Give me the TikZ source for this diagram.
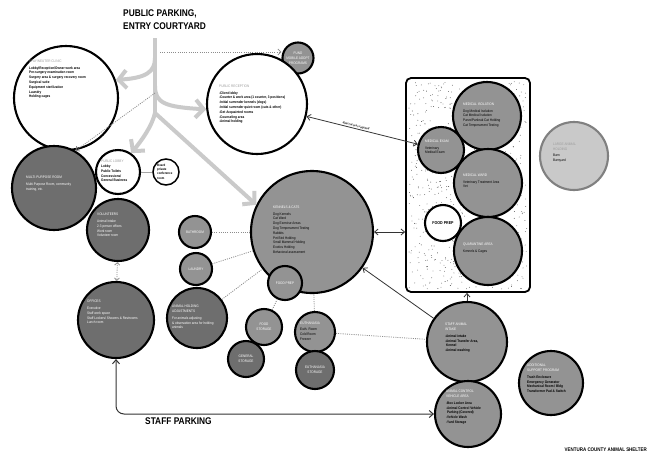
\documentclass[tikz,border=0pt]{standalone}
\usepackage{fontspec}
\setmainfont{Liberation Sans}
\newfontfamily\cf[FakeStretch=0.86]{Liberation Sans}
\usetikzlibrary{arrows.meta}
\definecolor{cdark}{HTML}{6E6E6E}
\definecolor{cmid}{HTML}{939393}
\definecolor{clight}{HTML}{C9C9C9}
\definecolor{cspine}{HTML}{CACACA}
\definecolor{chead}{HTML}{9C9C9C}
\newcommand{\hdw}[1]{\textcolor{white}{#1}}
\newcommand{\hdg}[1]{\textcolor{chead}{#1}}
\begin{document}
\begin{tikzpicture}[x=1pt,y=-1pt,
  circ/.style={circle, draw=black, line width=2.1pt, inner sep=0pt, minimum size=#1},
  wc/.style={circ=#1, fill=white},
  mc/.style={circ=#1, fill=cmid},
  dc/.style={circ=#1, fill=cdark},
  lc/.style={circ=#1, fill=clight, draw=gray},
  txt/.style={font=\cf\fontsize{3.6}{4.8}\selectfont, align=left, inner sep=0pt, anchor=north west},
  ctxt/.style={font=\cf\fontsize{3.6}{4.8}\selectfont, align=center, inner sep=0pt, text=white},
  big/.style={font=\cf\bfseries\fontsize{9.7}{13}\selectfont, align=left, inner sep=0pt},
  spine/.style={draw=cspine, line width=4pt},
  spinearrow/.style={spine, -{Straight Barb[length=8pt,width=18pt]}},
  thinarrow/.style={draw=black!80, line width=0.8pt},
  dotline/.style={draw=black!45, line width=0.8pt, dash pattern=on 1pt off 1.2pt},
  dotarrow/.style={dotline, -{Straight Barb[length=3pt,width=6pt]}}
]
\useasboundingbox[fill=white] (0,0) rectangle (651,456);

% titles
\node[big, anchor=north west] (title) at (123,10) {PUBLIC PARKING,\\ENTRY COURTYARD};
\node[big, anchor=north west] (staff) at (145,418) {STAFF PARKING};
\node[font=\cf\bfseries\fontsize{5.2}{6}\selectfont, anchor=east, inner sep=0pt] (vc) at (647,450) {VENTURA COUNTY ANIMAL SHELTER};

% medical rectangle with stipple
\node[draw=black, line width=1.8pt, rounded corners=5pt, fill=white, minimum width=124pt, minimum height=214pt, inner sep=0pt] (medrect) at (468,185) {};
\pgfmathsetseed{7}
\foreach \i in {1,...,750}{\fill[black!70] ({409+118*rnd},{81+208*rnd}) circle (0.42pt);}

% circles
\node[wc=104pt] (spay) at (66,98) {};
\node[mc=31pt] (fund) at (298,58) {};
\node[wc=100pt] (recep) at (257,104) {};
\node[dc=84pt] (multi) at (54,188) {};
\node[wc=44pt] (lobby) at (118,172) {};
\node[wc=26pt, line width=1.5pt] (board) at (166,172) {};
\node[dc=62pt] (volun) at (118,230) {};
\node[dc=76pt] (offices) at (116,320) {};
\node[mc=122pt] (kennels) at (312,232) {};
\node[mc=34pt] (foodprep) at (285,283) {};
\node[mc=32pt] (bath) at (195,232) {};
\node[mc=32pt] (laundry) at (196,269) {};
\node[dc=60pt] (adjust) at (197,318) {};
\node[mc=36pt] (foodstor) at (264,327) {};
\node[dc=36pt] (genstor) at (246,359) {};
\node[mc=40pt] (euth) at (315,332) {};
\node[dc=38pt] (euthstor) at (315,370) {};
\node[mc=68pt] (mediso) at (487,116) {};
\node[mc=46pt] (medexam) at (441,150) {};
\node[mc=68pt] (medward) at (488,183) {};
\node[wc=36pt] (fprep) at (443,223) {};
\node[mc=68pt] (quar) at (488,251) {};
\node[lc=68pt] (large) at (574,156) {};
\node[mc=80pt] (intake) at (467,342) {};
\node[mc=66pt] (acontrol) at (468,414) {};
\node[mc=64pt] (support) at (551,383) {};

% texts
\node[txt] (spay-t) at (29,60) {\hdg{SPAY/NEUTER CLINIC}\\[1.5pt]\bfseries Lobby/Reception/Owner work area\\\bfseries Pre-surgery examination room\\\bfseries Surgery area \& surgery recovery room\\\bfseries Surgical suite\\\bfseries Equipment sterilization\\\bfseries Laundry\\\bfseries Holding cages};
\node[ctxt] (fund-t) at (fund) {FUND\\MOBILE ADOPT\\PROGRAMS};
\node[txt] (recep-t) at (219,85) {\hdg{PUBLIC RECEPTION}\\[1.5pt]\bfseries -Client lobby\\\bfseries -Counter \& work area (1 counter, 3 positions)\\\bfseries -Initial surrender kennels (dogs)\\\bfseries -Initial surrender quiet room (cats \& other)\\\bfseries -Get Acquainted rooms\\\bfseries -Counseling area\\\bfseries -Animal holding};
\node[txt, text=white] (multi-t) at (26,176) {MULTI-PURPOSE ROOM\\[2pt]Multi-Purpose Room, community\\training, etc.};
\node[txt] (lobby-t) at (101,160) {\hdg{PUBLIC LOBBY}\\\bfseries Lobby\\\bfseries Public Toilets\\\bfseries Concessions/\\\bfseries General Business};
\node[txt, font=\cf\bfseries\fontsize{3.3}{4.2}\selectfont] (board-t) at (157,164) {Board\\private\\conference\\room};
\node[txt, text=white] (volun-t) at (97,213) {VOLUNTEERS\\[2pt]Animal Intake\\2-3 person offices\\Work room\\Volunteer room};
\node[txt, text=white] (offices-t) at (87,300) {OFFICES\\[2pt]Executive\\Staff work space\\Staff Lockers/ Showers \& Restrooms\\Lunch room};
\node[txt] (kennels-t) at (273,206) {\hdw{KENNELS \& CATS}\\[1.5pt]Dog Kennels\\Cat Ward\\Dog Exercise Areas\\Dog Temperament Testing\\Rabbits\\Pet Bird Holding\\Small Mammal Holding\\Exotics Holding\\Behavioral assessment};
\node[ctxt] (foodprep-t) at (foodprep) {FOOD PREP};
\node[ctxt] (bath-t) at (bath) {BATHROOM};
\node[ctxt] (laundry-t) at (laundry) {LAUNDRY};
\node[txt, text=white] (adjust-t) at (172,305) {ANIMAL HOLDING\\ADJUSTMENTS\\[2pt]For animals adjusting\\\& observation area for holding\\animals};
\node[ctxt] (foodstor-t) at (foodstor) {FOOD\\STORAGE};
\node[ctxt] (genstor-t) at (genstor) {GENERAL\\STORAGE};
\node[txt] (euth-t) at (300,322) {\hdw{EUTHANASIA}\\[1pt]Euth. Room\\Cold Room\\Freezer};
\node[ctxt] (euthstor-t) at (euthstor) {EUTHANASIA\\STORAGE};
\node[txt] (mediso-t) at (463,103) {\hdw{MEDICAL ISOLATION}\\[1.5pt]Dog Medical Isolation\\Cat Medical Isolation\\Parvo/Panleuk Cat Holding\\Cat Temperament Testing};
\node[txt] (medexam-t) at (425,140) {\hdw{MEDICAL EXAM}\\[1.5pt]Veterinary\\Medical Exam};
\node[txt] (medward-t) at (463,174) {\hdw{MEDICAL WARD}\\[1.5pt]Veterinary Treatment Area\\Vet};
\node[font=\cf\bfseries\fontsize{4.2}{5}\selectfont, inner sep=0pt] (fprep-t) at (fprep) {FOOD PREP};
\node[txt] (quar-t) at (463,243) {\hdw{QUARANTINE AREA}\\[1.5pt]Kennels \& Cages};
\node[txt] (large-t) at (553,143) {\hdg{LARGE ANIMAL}\\\hdg{HOLDING}\\[1.5pt]Barn\\Barnyard};
\node[txt] (intake-t) at (445,323) {\hdw{STAFF ANIMAL}\\\hdw{INTAKE}\\[2pt]\bfseries -Animal intake\\\bfseries -Animal Transfer Area,\\\bfseries \ Kennel\\\bfseries -Animal washing};
\node[txt] (acontrol-t) at (446,390) {\hdw{ANIMAL CONTROL}\\\hdw{VEHICLE AREA}\\[2pt]\bfseries -Box Locker Area\\\bfseries -Animal Control Vehicle\\\bfseries \ Parking (Covered)\\\bfseries -Vehicle Wash\\\bfseries -Yard Storage};
\node[txt] (support-t) at (527,364) {\hdw{ADDITIONAL}\\\hdw{SUPPORT PROGRAM}\\[2pt]\bfseries Trash Enclosure\\\bfseries Emergency Generator\\\bfseries Mechanical Room / Bldg\\\bfseries Transformer Pad \& Switch};

% spine (grey arrows from public parking)
\coordinate (s0) at (155,38);
\coordinate (s1) at (155,58);
\coordinate (s2) at (155,86);
\coordinate (s3) at (155,113);
\coordinate (sd1) at (160,52);
\coordinate (sd2) at (155,93);
\draw[spine] (s0) -- (s3);
\draw[spinearrow] (s1) .. controls (155,72) and (146,78) .. (spay.20);
\draw[spinearrow] (s2) .. controls (155,103) and (165,107) .. (recep.186);
\draw[spinearrow] (s3) .. controls (152,126) and (142,140) .. (lobby.55);
\draw[spinearrow] (s3) -- (kennels.154);

% dotted connectors
\draw[dotarrow] (sd1) -- (sd1 -| fund.west);
\draw[dotarrow] (sd2) -- (multi.60);
\draw[dotline] (bath) -- (kennels);
\draw[dotline] (laundry) -- (kennels);
\draw[dotline] (adjust) -- (kennels);
\draw[dotline] (foodstor) -- (foodprep);
\draw[dotline] (euth) -- (kennels);
\draw[dotline] (euth) -- (intake);
\draw[dotline, {Straight Barb[length=2.5pt,width=5pt]}-{Straight Barb[length=2.5pt,width=5pt]}] (volun) -- (offices);
\draw[draw=black!35, line width=0.7pt] (lobby) -- (board);

% solid connectors
\draw[thinarrow, {Straight Barb[length=3.5pt,width=6pt]}-{Straight Barb[length=3.5pt,width=6pt]}] (recep) -- node[pos=0.44, above=0.6pt, sloped, font=\cf\bfseries\fontsize{3}{3.5}\selectfont, inner sep=0pt] (direct) {direct access required} (medexam);
\draw[thinarrow, {Straight Barb[length=3.5pt,width=6pt]}-{Straight Barb[length=3.5pt,width=6pt]}] (kennels) -- (kennels -| medrect.west);
\draw[thinarrow, -{Straight Barb[length=3.5pt,width=6pt]}] (intake) -- (kennels);
\draw[thinarrow, -{Straight Barb[length=3.5pt,width=6pt]}] (intake.north) -- (intake.north |- medrect.south);
\draw[thinarrow, line width=1pt, rounded corners=8pt, {Straight Barb[length=4pt,width=7pt]}-{Straight Barb[length=4pt,width=7pt]}] (offices.south) |- (acontrol.west);
\end{tikzpicture}
\end{document}
